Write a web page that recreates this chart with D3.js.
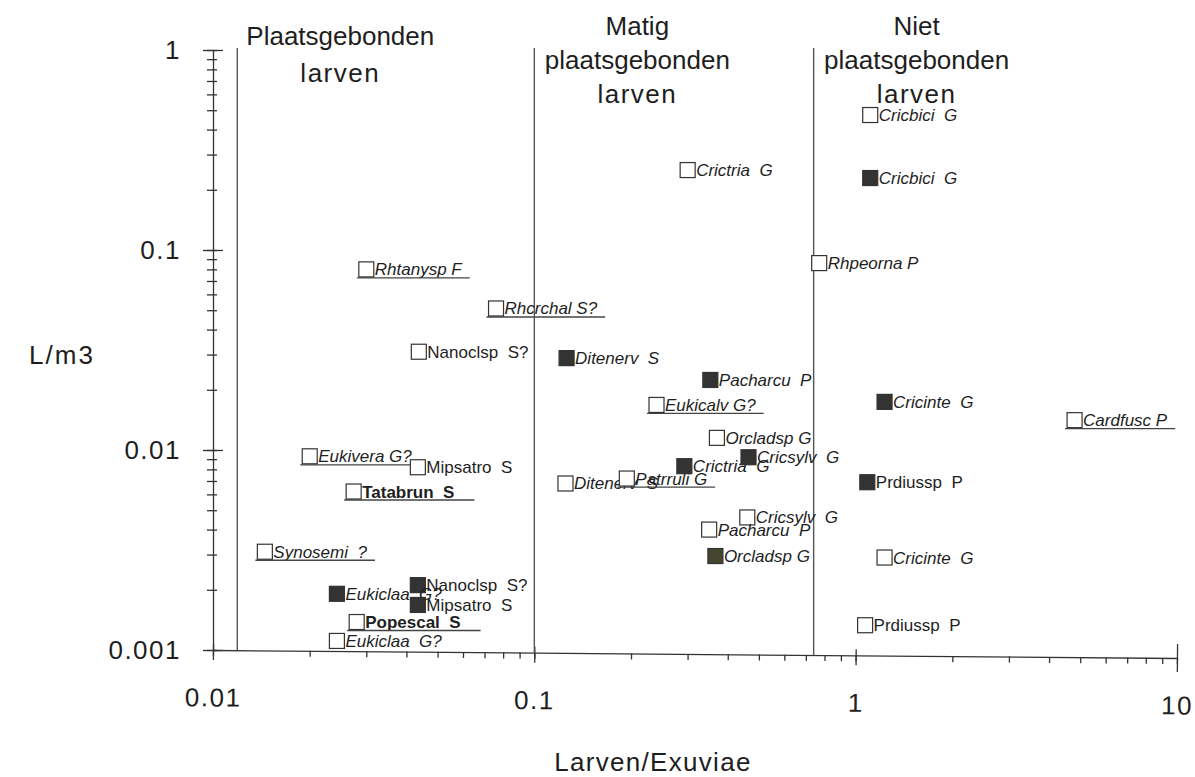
<!DOCTYPE html>
<html>
<head>
<meta charset="utf-8">
<script src="https://cdn.jsdelivr.net/npm/d3@7"></script>
<style>
  body { margin: 0; background: #fff; }
  svg text { font-family: "Liberation Sans", Arial, sans-serif; fill: #1e1e1e; }
  .axis path, .axis line { stroke: #333; stroke-width: 1.3; }
  .lbl { white-space: pre; font-size: 17px; }
</style>
</head>
<body>
<svg id="chart" width="1195" height="777"></svg>
<script>
// open squares
const openLabels = ['Cricbici  G', 'Crictria  G', 'Rhpeorna P', 'Rhtanysp F', 'Rhcrchal S?',
  'Nanoclsp  S?', 'Eukicalv G?', 'Cardfusc P', 'Orcladsp G', 'Eukivera G?', 'Mipsatro  S',
  'Ditenerv  S', 'Patrruli G', 'Tatabrun  S', 'Cricsylv  G', 'Pacharcu  P', 'Synosemi  ?',
  'Cricinte  G', 'Popescal  S', 'Eukiclaa  G?', 'Prdiussp  P'];
const openX = [1.11, 0.30, 0.77, 0.030, 0.076, 0.0437, 0.24, 4.8, 0.37, 0.020, 0.0434,
  0.125, 0.194, 0.0274, 0.46, 0.35, 0.0145, 1.23, 0.028, 0.0243, 1.07];
const openY = [0.473, 0.251, 0.086, 0.080, 0.051, 0.031, 0.0168, 0.0141, 0.0115, 0.0093, 0.0082,
  0.0068, 0.0072, 0.0062, 0.0046, 0.0040, 0.0031, 0.0029, 0.00138, 0.00111, 0.00133];

// filled squares
const filledLabels = ['Cricbici  G', 'Ditenerv  S', 'Pacharcu  P', 'Cricinte  G', 'Crictria  G',
  'Cricsylv  G', 'Prdiussp  P', 'Orcladsp G', 'Nanoclsp  S?', 'Eukiclaa  G?', 'Mipsatro  S'];
const filledX = [1.11, 0.126, 0.353, 1.23, 0.293, 0.464, 1.087, 0.366, 0.0434, 0.0243, 0.0434];
const filledY = [0.229, 0.0288, 0.0224, 0.0174, 0.0083, 0.0092, 0.0069, 0.00295, 0.00211, 0.00191, 0.00168];

const xTickValues = [0.01, 0.1, 1, 10];
const xTickLabels = ['0.01', '0.1', '1', '10'];
const yTickValues = [0.001, 0.01, 0.1, 1];
const yTickLabels = ['0.001', '0.01', '0.1', '1'];

// boundaries between the three groups, and their headings
const zoneBounds = [0.0119, 0.1, 0.74];
const zoneTitles = [['Plaatsgebonden', 'larven'], ['Matig', 'plaatsgebonden', 'larven'], ['Niet', 'plaatsgebonden', 'larven']];

// label styling
const underlined = new Set(['Rhtanysp F', 'Rhcrchal S?', 'Eukicalv G?', 'Cardfusc P', 'Eukivera G?',
  'Tatabrun S', 'Synosemi ?', 'Patrruli G', 'Popescal S']);
const boldLabels = new Set(['Tatabrun S', 'Popescal S']);
const uprightLabels = new Set(['Nanoclsp S?', 'Mipsatro S', 'Prdiussp P', 'Tatabrun S', 'Popescal S']);

const svg = d3.select('#chart');
const x = d3.scaleLog().domain([0.01, 10]).range([213, 1177]);
const y = d3.scaleLog().domain([0.001, 1]).range([650, 50]);

// the bottom axis of the scan runs slightly downhill
const tilt = 8 / 964;
const tiltDeg = Math.atan(tilt) * 180 / Math.PI;
const axisY = px => y(0.001) + (px - x(0.01)) * tilt;

// y axis
const yMinor = svg.append('g').attr('class', 'axis')
    .attr('transform', `translate(${x(0.01)},0)`)
    .call(d3.axisLeft(y).tickValues(y.ticks()).tickFormat('').tickSize(6).tickSizeOuter(0));
yMinor.selectAll('.tick line').attr('x1', 4).attr('stroke-width', 1);

const yMajor = svg.append('g').attr('class', 'axis')
    .attr('transform', `translate(${x(0.01)},0)`)
    .call(d3.axisLeft(y).tickValues(yTickValues).tickFormat((d, i) => yTickLabels[i])
      .tickSize(10).tickPadding(22).tickSizeOuter(0));
yMajor.select('.domain').remove();
yMajor.selectAll('.tick line').attr('x1', 10);
yMajor.selectAll('.tick text').style('font-size', '26px').style('letter-spacing', '1.5px');

// x axis
const xg = svg.append('g')
    .attr('transform', `translate(0,${y(0.001)}) rotate(${tiltDeg},${x(0.01)},0)`);
const xMinor = xg.append('g').attr('class', 'axis')
    .call(d3.axisBottom(x).tickValues(x.ticks()).tickFormat('').tickSize(6).tickSizeOuter(0));
xMinor.selectAll('.tick line').attr('stroke-width', 1);
const xMajor = xg.append('g').attr('class', 'axis')
    .call(d3.axisBottom(x).tickValues(xTickValues).tickFormat((d, i) => xTickLabels[i])
      .tickSize(10).tickPadding(28).tickSizeOuter(0));
xMajor.select('.domain').remove();
xMajor.selectAll('.tick line').attr('y1', d => d === 10 ? -14 : -6).attr('y2', d => d === 10 ? 14 : 10);
xMajor.selectAll('.tick text').style('font-size', '26px').style('letter-spacing', '1.5px');

// group boundaries
svg.selectAll('.zone')
  .data(zoneBounds)
  .join('line')
    .attr('class', 'zone')
    .attr('x1', d => x(d)).attr('x2', d => x(d))
    .attr('y1', 48).attr('y2', d => axisY(x(d)))
    .attr('stroke', '#555').attr('stroke-width', 1.4);

// headings
zoneTitles.forEach((lines, i) => {
  const cx = x(zoneBounds[i]) + 103;
  const top = 35 + (3 - lines.length) * 10;
  lines.forEach((t, j) => {
    svg.append('text')
      .attr('x', cx).attr('y', top + j * (lines.length === 2 ? 37 : 34))
      .attr('text-anchor', 'middle')
      .style('font-size', '26px')
      .style('letter-spacing', t === 'larven' ? '1.5px' : '0px')
      .text(t);
  });
});

// axis titles
svg.append('text')
  .attr('x', 62).attr('y', 364)
  .attr('text-anchor', 'middle')
  .style('font-size', '26px').style('letter-spacing', '2px')
  .text('L/m3');
svg.append('text')
  .attr('x', 653).attr('y', 771)
  .attr('text-anchor', 'middle')
  .style('font-size', '26px').style('letter-spacing', '1.3px')
  .text('Larven/Exuviae');

// points
const size = 15;
function drawSeries(labels, xs, ys, filled) {
  const data = labels.map((l, i) => ({ label: l, key: l.replace(/\s+/g, ' '), x: xs[i], y: ys[i] }));
  const g = svg.append('g');
  const pt = g.selectAll('g')
    .data(data)
    .join('g')
      .attr('transform', d => `translate(${x(d.x)},${y(d.y)})`);

  pt.append('text')
      .attr('class', 'lbl')
      .attr('x', size / 2 + 1)
      .attr('y', 6)
      .style('font-style', d => uprightLabels.has(d.key) ? 'normal' : 'italic')
      .style('font-weight', d => boldLabels.has(d.key) ? 'bold' : 'normal')
      .text(d => d.label);

  pt.filter(d => underlined.has(d.key))
    .append('line')
      .attr('x1', -size / 2 - 2)
      .attr('x2', function(d) {
        const len = this.parentNode.querySelector('text').getComputedTextLength();
        return size / 2 + 1 + len + (boldLabels.has(d.key) ? 20 : 8);
      })
      .attr('y1', size / 2 + 1).attr('y2', size / 2 + 1)
      .attr('stroke', '#444').attr('stroke-width', 1.3);

  pt.append('rect')
      .attr('x', -size / 2).attr('y', -size / 2)
      .attr('width', size).attr('height', size)
      .attr('fill', d => filled ? (d.key === 'Orcladsp G' ? '#45452f' : '#333') : '#fff')
      .attr('stroke', '#333').attr('stroke-width', 1.2);
}

drawSeries(openLabels, openX, openY, false);
drawSeries(filledLabels, filledX, filledY, true);
</script>
</body>
</html>
